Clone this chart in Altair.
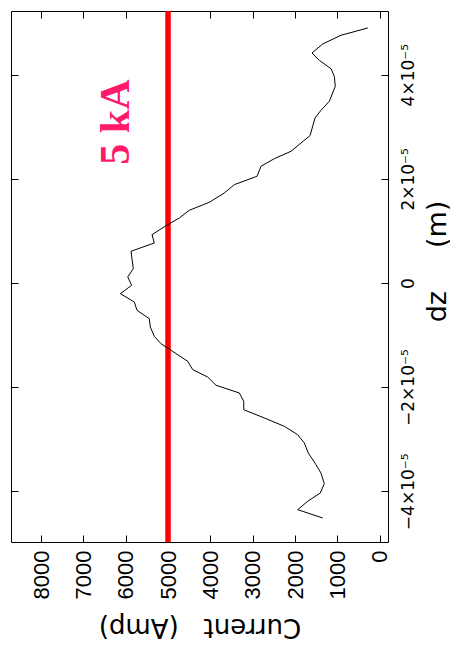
import altair as alt
import pandas as pd

# Values (Current in Amp, dz in metres)
current_amp = [283, 914, 1346, 1599, 1427, 1150, 1072, 1049, 1190, 1387,
               1528, 1646, 1859, 2095, 2490, 2804, 2898, 3434, 3671, 4025,
               4497, 4733, 5007, 5378, 5324, 5874, 5820, 5952, 5858, 6127,
               5796, 5733, 5442, 5418, 5324, 5166, 4929, 4535, 4417, 4063,
               3867, 3316, 3212, 3212, 2726, 2253, 1937, 1781, 1686, 1505,
               1387, 1309, 1403, 1701, 1937, 1346]
dz_m = [4.897e-5, 4.757e-5, 4.590e-5, 4.417e-5, 4.276e-5, 4.115e-5, 3.969e-5, 3.777e-5, 3.489e-5, 3.316e-5,
        3.168e-5, 2.829e-5, 2.688e-5, 2.529e-5, 2.387e-5, 2.241e-5, 2.049e-5, 1.888e-5, 1.728e-5, 1.550e-5,
        1.396e-5, 1.248e-5, 1.120e-5, 0.928e-5, 0.768e-5, 0.609e-5, 0.275e-5, 0.115e-5, -0.044e-5, -0.205e-5,
        -0.365e-5, -0.524e-5, -0.686e-5, -0.845e-5, -1.024e-5, -1.166e-5, -1.292e-5, -1.504e-5, -1.665e-5, -1.805e-5,
        -1.964e-5, -2.112e-5, -2.272e-5, -2.433e-5, -2.592e-5, -2.752e-5, -2.913e-5, -3.072e-5, -3.265e-5, -3.489e-5,
        -3.649e-5, -3.854e-5, -4.033e-5, -4.192e-5, -4.353e-5, -4.513e-5]

current_ticks = [0, 1000, 2000, 3000, 4000, 5000, 6000, 7000, 8000]
dz_ticks = [-4e-5, -2e-5, 0, 2e-5, 4e-5]
current_domain = [-196, 8709]
dz_domain = [-4.974e-5, 5.223e-5]

threshold_current = [5000]
label_text = ["5 kA"]
label_current = [6229]
label_dz = [3.09e-5]

df = pd.DataFrame({"step": list(range(len(current_amp))), "current": current_amp, "dz": dz_m})
df_rule = pd.DataFrame({"current": threshold_current})
df_label = pd.DataFrame({"text": label_text, "current": label_current, "dz": label_dz})

x_scale = alt.Scale(domain=current_domain, reverse=True, nice=False, zero=False)
y_scale = alt.Scale(domain=dz_domain, nice=False, zero=False)

common_axis = dict(offset=-7, tickSize=7, domain=False, grid=False,
                   tickColor="black", tickWidth=1, labelColor="black", titleColor="black")

x_bottom = alt.Axis(orient="bottom", values=current_ticks, format="d", labelAngle=270,
                    labelAlign="right", labelBaseline="middle",
                    labelFont="Liberation Sans", labelFontSize=22, labelPadding=8,
                    title="Current\u00a0\u00a0\u00a0(Amp)", titleAngle=180, titleBaseline="bottom",
                    titleFont="DejaVu Sans", titleFontSize=26, titleFontWeight="normal",
                    titlePadding=15, **common_axis)
y_right = alt.Axis(orient="right", values=dz_ticks,
                   labelExpr="datum.value == 0 ? '0' : format(round(datum.value * 100000), 'd') + '\u00d710\u207b\u2075'",
                   labelAngle=270, labelAlign="center", labelBaseline="top",
                   labelFont="DejaVu Sans", labelFontSize=17, labelPadding=12,
                   title="dz\u00a0\u00a0\u00a0\u00a0\u00a0(m)", titleAngle=270, titleBaseline="top",
                   titleFont="DejaVu Sans", titleFontSize=27, titleFontWeight="normal",
                   titlePadding=8, titleY=250, **common_axis)
x_top = alt.Axis(orient="top", values=current_ticks, labels=False, title=None, **common_axis)
y_left = alt.Axis(orient="left", values=dz_ticks, labels=False, title=None, **common_axis)

line = alt.Chart(df).mark_line(color="black", strokeWidth=1).encode(
    x=alt.X("current:Q", scale=x_scale, axis=x_bottom),
    y=alt.Y("dz:Q", scale=y_scale, axis=y_right),
    order="step:Q",
)

rule = alt.Chart(df_rule).mark_rule(color="#ff0000", strokeWidth=5.5).encode(
    x=alt.X("current:Q", scale=x_scale, axis=None),
)

label = alt.Chart(df_label).mark_text(
    angle=270, font="Liberation Serif", fontWeight="bold", fontSize=42,
    color="#ff1a6e", align="center", baseline="middle",
).encode(
    x=alt.X("current:Q", scale=x_scale, axis=x_top),
    y=alt.Y("dz:Q", scale=y_scale, axis=y_left),
    text="text:N",
)

chart = alt.layer(rule, line, label).resolve_axis(
    x="independent", y="independent"
).properties(
    width=377, height=531,
    padding={"left": 2, "top": 0, "right": 0, "bottom": 30},
    background="white",
).configure_view(stroke="black", strokeWidth=1)

chart.save("out.html", embed_options={"renderer": "svg", "actions": False})
